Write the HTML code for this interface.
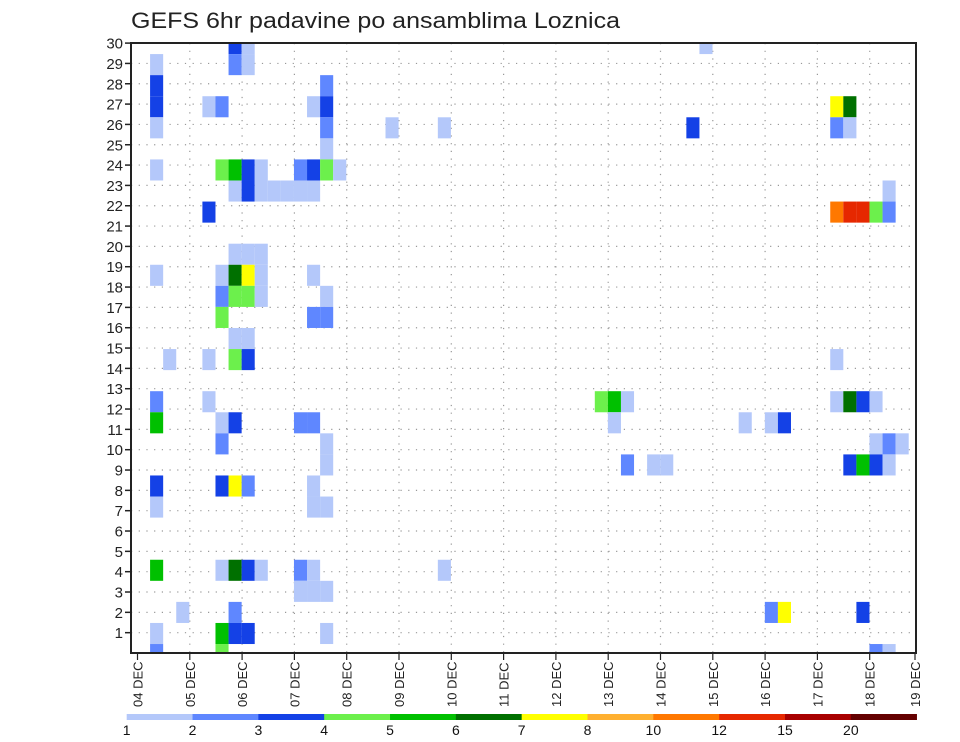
<!DOCTYPE html>
<html><head><meta charset="utf-8"><style>
html,body{margin:0;padding:0;background:#fff;}
svg{display:block;font-family:"Liberation Sans",sans-serif;}
</style></head><body>
<svg id="chart" width="960" height="742" viewBox="0 0 960 742" xmlns="http://www.w3.org/2000/svg">
<defs><clipPath id="plotclip"><rect x="131" y="43" width="785" height="610"/></clipPath></defs>
<text x="131" y="28" font-size="22" textLength="489" lengthAdjust="spacingAndGlyphs" fill="#222">GEFS 6hr padavine po ansamblima Loznica</text>
<g id="grid"></g>
<g id="cells" clip-path="url(#plotclip)"></g>
<rect x="131" y="43" width="785" height="610" fill="none" stroke="#222" stroke-width="2"/>
<g id="yaxis"></g>
<g id="xaxis"></g>
<g id="legend"></g>
</svg>
<script>
// data: 6-hour step index, row index from top, precipitation value
const cellStep   = [7,8, 1,7,8, 1,14, 1,5,6,13,14,53,54, 1,14,19,23,42,53,54, 14, 1,6,7,8,9,12,13,14,15, 7,8,9,10,11,12,13,57, 5,53,54,55,56,57, 7,8,9, 1,6,7,8,9,13, 6,7,8,9,14, 6,13,14, 7,8, 2,5,7,8,53, 1,5,35,36,37,53,54,55,56, 1,6,7,12,13,36,46,48,49, 6,14,56,57,58, 14,37,39,40,54,55,56,57, 1,6,7,8,13, 1,13,14, 1,6,7,8,9,12,13,23, 12,13,14, 3,7,48,49,55, 1,6,7,8,14, 1,6,56,57, 43];
const cellRow    = [0,0, 1,1,1, 2,2, 3,3,3,3,3,3,3, 4,4,4,4,4,4,4, 5, 6,6,6,6,6,6,6,6,6, 7,7,7,7,7,7,7,7, 8,8,8,8,8,8, 10,10,10, 11,11,11,11,11,11, 12,12,12,12,12, 13,13,13, 14,14, 15,15,15,15,15, 17,17,17,17,17,17,17,17,17, 18,18,18,18,18,18,18,18,18, 19,19,19,19,19, 20,20,20,20,20,20,20,20, 21,21,21,21,21, 22,22,22, 25,25,25,25,25,25,25,25, 26,26,26, 27,27,27,27,27, 28,28,28,28,28, 29,29,29,29, 0];
const cellValue  = [3.5,1.5, 1.5,2.5,1.5, 3.5,2.5, 3.5,1.5,2.5,1.5,3.5,7.5,6.5, 1.5,2.5,1.5,1.5,3.5,2.5,1.5, 1.5, 1.5,4.5,5.5,3.5,1.5,2.5,3.5,4.5,1.5, 1.5,3.5,1.5,1.5,1.5,1.5,1.5,1.5, 3.5,11,13.5,13.5,4.5,2.5, 1.5,1.5,1.5, 1.5,1.5,6.5,7.5,1.5,1.5, 2.5,4.5,4.5,1.5,1.5, 4.5,2.5,2.5, 1.5,1.5, 1.5,1.5,4.5,3.5,1.5, 2.5,1.5,4.5,5.5,1.5,1.5,6.5,3.5,1.5, 5.5,1.5,3.5,2.5,2.5,1.5,1.5,1.5,3.5, 2.5,1.5,1.5,2.5,1.5, 1.5,2.5,1.5,1.5,3.5,5.5,3.5,1.5, 3.5,3.5,7.5,2.5,1.5, 1.5,1.5,1.5, 5.5,1.5,6.5,3.5,1.5,2.5,1.5,1.5, 1.5,1.5,1.5, 1.5,2.5,2.5,7.5,3.5, 1.5,5.5,3.5,3.5,1.5, 2.5,4.5,2.5,1.5, 1.5];
const levels     = [1,2,3,4,5,6,7,8,10,12,15,20];
const levelLabels= ["1","2","3","4","5","6","7","8","10","12","15","20"];
const colors     = ["#b4c8fa","#5f87ff","#1441e6","#6cf04c","#00c000","#007000","#ffff00","#ffb030","#ff7800","#e62800","#a80000","#640000"];
const dayLabels  = ["04 DEC","05 DEC","06 DEC","07 DEC","08 DEC","09 DEC","10 DEC","11 DEC","12 DEC","13 DEC","14 DEC","15 DEC","16 DEC","17 DEC","18 DEC","19 DEC"];
const yTicks     = [1,2,3,4,5,6,7,8,9,10,11,12,13,14,15,16,17,18,19,20,21,22,23,24,25,26,27,28,29,30];

const NS="http://www.w3.org/2000/svg";
function mk(tag, attrs, parent){const e=document.createElementNS(NS,tag);for(const k in attrs)e.setAttribute(k,attrs[k]);parent.appendChild(e);return e;}
const X0=137, STEP=13.08, DAY=52.3;
function xStep(j){return X0+STEP*j;}
function xDay(d){return Math.min(137.5+DAY*d,915);}
function yRow(t){return 33+t*21.07;}
function yLabel(k){return 653-20.33*k;}
function colorFor(v){let c=null;for(let i=0;i<levels.length;i++){if(v>=levels[i])c=colors[i];}return c;}

const grid=document.getElementById('grid');
for(let d=1; d<dayLabels.length-1; d++){
  const l=mk('line',{x1:xDay(d),x2:xDay(d),y1:43,y2:653,stroke:'#999','stroke-width':1.2,'stroke-dasharray':'1.2 6.5'},grid);
  
  
}
for(const k of yTicks){
  if(k===30) continue;
  const l=mk('line',{x1:131,x2:916,y1:yLabel(k),y2:yLabel(k),stroke:'#999','stroke-width':1.2,'stroke-dasharray':'1.2 6.5'},grid);
  
  
}

const cells=document.getElementById('cells');
for(let i=0;i<cellStep.length;i++){
  const r=mk('rect',{x:xStep(cellStep[i]),y:yRow(cellRow[i]),width:STEP,height:21.07,fill:colorFor(cellValue[i])},cells);
  
  
}

const ya=document.getElementById('yaxis');
for(const k of yTicks){
  const y=yLabel(k);
  const tk=mk('line',{x1:125,x2:131,y1:y,y2:y,stroke:'#222','stroke-width':1.5},ya);
  
  
  const t=mk('text',{x:123,y:y+5.5,'font-size':15,'text-anchor':'end',fill:'#222'},ya);
  t.textContent=String(k);
  
  
}

const xa=document.getElementById('xaxis');
for(let d=0; d<dayLabels.length; d++){
  const x=xDay(d);
  const tk=mk('line',{x1:x,x2:x,y1:653,y2:660,stroke:'#222','stroke-width':1.2},xa);
  
  
  const t=mk('text',{x:0,y:0,'font-size':13,transform:'translate('+(x+5)+',707) rotate(-90)',fill:'#222'},xa);
  t.textContent=dayLabels[d];
  
  
}

const lg=document.getElementById('legend');
const LW=65.83, LX=126.7;
for(let i=0;i<colors.length;i++){
  const r=mk('rect',{x:LX+LW*i,y:714,width:LW+0.3,height:6,fill:colors[i]},lg);
  
  
  const t=mk('text',{x:LX+LW*i,y:735,'font-size':14,'text-anchor':'middle',fill:'#111'},lg);
  t.textContent=levelLabels[i];
  
  
}
</script>
</body></html>
